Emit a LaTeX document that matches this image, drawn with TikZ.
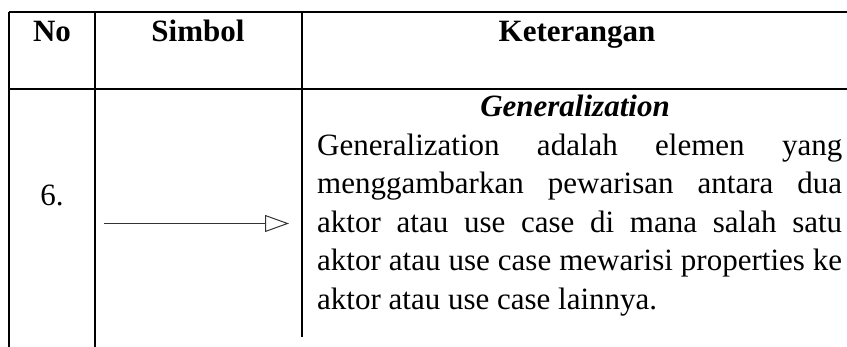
\documentclass[tikz,border=0pt]{standalone}
\usepackage{fontspec}
\setmainfont{Liberation Serif}
\usetikzlibrary{arrows.meta}
\tikzset{
  rule/.style={line width=1.4pt, black},
  body/.style={inner sep=0pt, font=\fontsize{31}{36}\selectfont},
  head/.style={body, anchor=base, font=\fontsize{31}{36}\selectfont\bfseries},
  textline/.style={body, anchor=base west},
  genline/.style={line width=1pt, draw=black!80,
    -{Triangle[open, length=24pt, width=17pt, line width=1pt]}}
}
\begin{document}
\begin{tikzpicture}[x=1pt, y=-1pt]
  \useasboundingbox (0,0) rectangle (847,347);
  % table rules
  \draw[rule] (9,12) -- (847,12);
  \draw[rule] (9,89) -- (847,89);
  \draw[rule] (9,12) -- (9,347);
  \draw[rule] (95,12) -- (95,347);
  \draw[rule] (302,12) -- (302,337);
  % header row
  \node[head] (hNo) at (52,42) {No};
  \node[head] (hSim) at (198,42) {Simbol};
  \node[head] (hKet) at (577,42) {Keterangan};
  % row 6: number and symbol
  \node[body, anchor=base] (num) at (52,206) {6.};
  \coordinate (genA) at (104,223.5);
  \coordinate (genB) at (289,223.5);
  \draw[genline] (genA) -- (genB);
  % row 6: description
  \node[body, anchor=base, font=\fontsize{31}{36}\selectfont\bfseries\itshape] (title) at (575,117) {Generalization};
  \node[textline] (l1) at (317,155.5) {\makebox[525pt][s]{Generalization adalah elemen yang}};
  \node[textline] (l2) at (317,194) {\makebox[525pt][s]{menggambarkan pewarisan antara dua}};
  \node[textline] (l3) at (317,232.5) {\makebox[525pt][s]{aktor atau use case di mana salah satu}};
  \node[textline] (l4) at (317,271) {\makebox[525pt][s]{aktor atau use case mewarisi properties ke}};
  \node[textline] (l5) at (317,309.5) {aktor atau use case lainnya.};
\end{tikzpicture}
\end{document}
